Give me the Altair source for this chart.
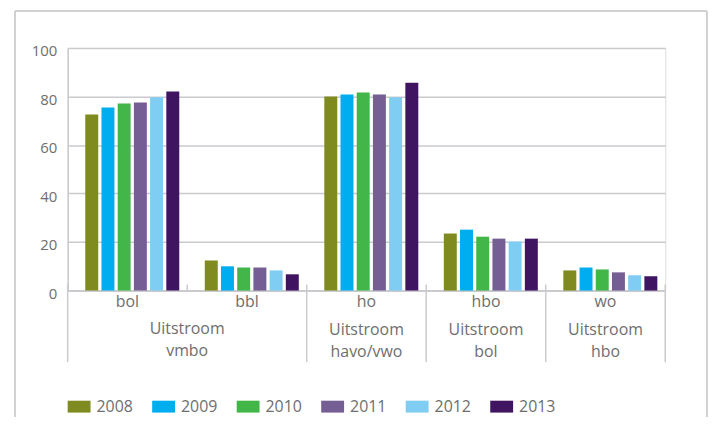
import altair as alt
import pandas as pd

# ---- data ----
categories = ["bol", "bbl", "ho", "hbo", "wo"]
years = ["2008", "2009", "2010", "2011", "2012", "2013"]
bol_values = [72.6, 75.4, 77.1, 77.5, 79.7, 82.0]
bbl_values = [12.4, 10.0, 9.5, 9.5, 8.3, 6.7]
ho_values = [80.0, 80.8, 81.6, 80.8, 79.7, 85.7]
hbo_values = [23.5, 25.1, 22.2, 21.4, 20.2, 21.4]
wo_values = [8.3, 9.5, 8.7, 7.5, 6.3, 5.9]
y_ticks = [0, 20, 40, 60, 80, 100]

group_labels = ["Uitstroom\nvmbo", "Uitstroom\nhavo/vwo", "Uitstroom\nbol", "Uitstroom\nhbo"]
group_anchor = ["bbl", "ho", "hbo", "wo"]          # category the label sits on
group_at_start = [True, False, False, False]       # vmbo label spans bol+bbl
long_separators = ["bol", "ho", "hbo", "wo"]       # group borders (band start)
short_separators = ["bbl"]

colors = ["#7F8B1E", "#00ADEE", "#42B649", "#755E93", "#7FCDF2", "#3F1562"]
TEXT = "#6e6e6e"
GRID = "#cacacf"
FONT = "Open Sans"

series = [bol_values, bbl_values, ho_values, hbo_values, wo_values]
rows = []
for cat, vals in zip(categories, series):
    for yr, v in zip(years, vals):
        rows.append({"category": cat, "year": yr, "value": v})
bars_df = pd.DataFrame(rows)

groups_df = pd.DataFrame({"category": group_anchor, "label": group_labels, "start": group_at_start})
long_df = pd.DataFrame({"category": long_separators})
end_df = pd.DataFrame({"category": [categories[-1]]})
short_df = pd.DataFrame({"category": short_separators})

x_scale = alt.Scale(domain=categories, paddingInner=0, paddingOuter=0)
y_scale = alt.Scale(domain=[0, 100])
x_axis = alt.Axis(title=None, labelAngle=0, ticks=False, labelFontSize=16,
                  labelColor=TEXT, labelPadding=3, labelFont=FONT,
                  domainColor=GRID, domainWidth=2, grid=False)


def xcat(band):
    return alt.X("category:N", scale=x_scale, sort=categories, bandPosition=band, axis=x_axis)


bars = alt.Chart(bars_df).mark_bar().encode(
    x=alt.X("category:N", scale=x_scale, sort=categories, axis=x_axis),
    xOffset=alt.XOffset("year:N", sort=years,
                        scale=alt.Scale(paddingInner=0.2, paddingOuter=0.787, align=0.69)),
    y=alt.Y("value:Q", scale=y_scale,
            axis=alt.Axis(title=None, values=y_ticks, grid=True, gridColor=GRID, gridWidth=1.5,
                          domain=True, domainColor=GRID, domainWidth=1.5, ticks=False,
                          labelFontSize=15, labelColor=TEXT, labelPadding=11, labelOffset=3,
                          labelFont=FONT)),
    color=alt.Color("year:N", scale=alt.Scale(domain=years, range=colors),
                    legend=alt.Legend(title=None, orient="none", legendX=0, legendY=349,
                                      direction="horizontal", columns=6,
                                      symbolType="M-1,-0.52H1V0.52H-1Z", symbolSize=529,
                                      symbolStrokeWidth=0, symbolOpacity=1,
                                      labelFontSize=16, labelColor=TEXT, labelFont=FONT,
                                      labelLimit=300,
                                      labelOffset=6, columnPadding=19, padding=0)),
)

long_rules = alt.Chart(long_df).mark_rule(color=GRID, strokeWidth=1.5).encode(
    x=xcat(0), y=alt.value(238), y2=alt.value(316),
)
end_rule = alt.Chart(end_df).mark_rule(color=GRID, strokeWidth=1.5).encode(
    x=xcat(1), y=alt.value(238), y2=alt.value(316),
)
short_rules = alt.Chart(short_df).mark_rule(color=GRID, strokeWidth=1.5).encode(
    x=xcat(0), y=alt.value(238), y2=alt.value(244),
)

label_base = alt.Chart(groups_df).mark_text(
    lineBreak="\n", lineHeight=22, fontSize=16, color=TEXT, font=FONT, baseline="middle"
)
labels_start = label_base.transform_filter("datum.start").encode(
    x=xcat(0), y=alt.value(283), text="label:N",
)
labels_mid = label_base.transform_filter("!datum.start").encode(
    x=xcat(0.5), y=alt.value(284), text="label:N",
)

# outer frame (decoration)
frame_left = alt.Chart(long_df).mark_rule(color="#d0d0d0", strokeWidth=1.2).encode(
    x=alt.value(-53), y=alt.value(-37), y2=alt.value(400))
frame_top = alt.Chart(long_df).mark_rule(color="#d0d0d0", strokeWidth=1.2).encode(
    x=alt.value(-53), x2=alt.value(643), y=alt.value(-37))
frame_right = alt.Chart(long_df).mark_rule(color="#d0d0d0", strokeWidth=1.2).encode(
    x=alt.value(643), y=alt.value(-37), y2=alt.value(400))

chart = alt.layer(
    frame_left, frame_top, frame_right,
    bars, long_rules, end_rule, short_rules, labels_start, labels_mid,
).properties(
    width=601, height=244,
    autosize=alt.AutoSizeParams(type="none"),
    padding={"left": 60, "top": 39, "right": 43, "bottom": 126},
).configure_view(stroke=None).configure(font=FONT)

chart.save("out.html", embed_options={"renderer": "svg", "actions": False})
